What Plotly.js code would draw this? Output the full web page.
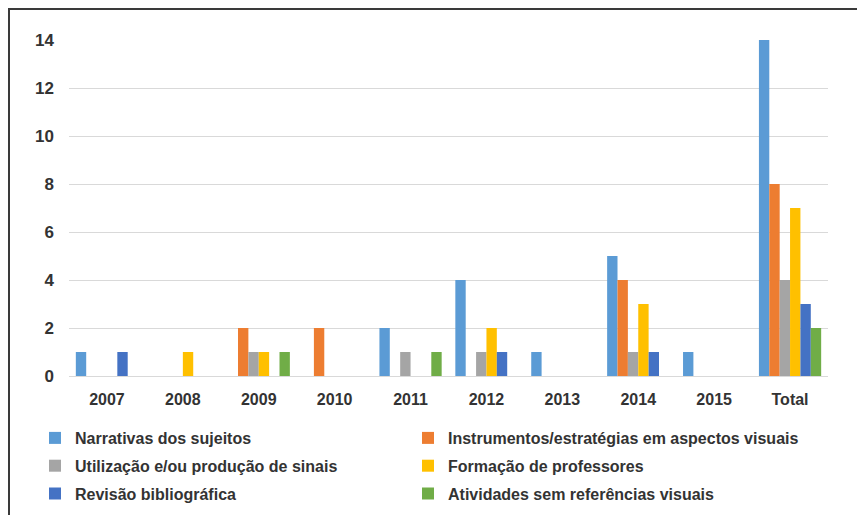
<!DOCTYPE html>
<html>
<head>
<meta charset="utf-8">
<script src="https://cdn.plot.ly/plotly-3.0.1.min.js"></script>
<style>
  html, body { margin: 0; padding: 0; background: #fff; overflow: hidden; }
  #frame { position: absolute; left: 8px; top: 8px; width: 900px; height: 600px;
           border-left: 2px solid #3a3a3a; border-top: 2px solid #3a3a3a; }
  #chart { position: absolute; left: 0; top: 0; width: 857px; height: 515px; }
</style>
</head>
<body>
<div id="frame"></div>
<div id="chart"></div>
<script>
const categories = ["2007", "2008", "2009", "2010", "2011", "2012", "2013", "2014", "2015", "Total"];
const seriesNames = [
  "Narrativas dos sujeitos",
  "Instrumentos/estratégias em aspectos visuais",
  "Utilização e/ou produção de sinais",
  "Formação de professores",
  "Revisão bibliográfica",
  "Atividades sem referências visuais"
];
const narrativas   = [1, 0, 0, 0, 2, 4, 1, 5, 1, 14];
const instrumentos = [0, 0, 2, 2, 0, 0, 0, 4, 0, 8];
const utilizacao   = [0, 0, 1, 0, 1, 1, 0, 1, 0, 4];
const formacao     = [0, 1, 1, 0, 0, 2, 0, 3, 0, 7];
const revisao      = [1, 0, 0, 0, 0, 1, 0, 1, 0, 3];
const atividades   = [0, 0, 1, 0, 1, 0, 0, 0, 0, 2];
const yTicks = [0, 2, 4, 6, 8, 10, 12, 14];

const values = [narrativas, instrumentos, utilizacao, formacao, revisao, atividades];
const colors = ["#5B9BD5", "#ED7D31", "#A5A5A5", "#FFC000", "#4472C4", "#70AD47"];
// left column: 0,2,4 ; right column: 1,3,5
const legendIds = ["legend", "legend2", "legend", "legend2", "legend", "legend2"];

const traces = values.map((v, i) => ({
  type: "bar",
  name: seriesNames[i],
  x: categories,
  y: v,
  marker: { color: colors[i], line: { width: 0 } },
  legend: legendIds[i],
  legendgroup: "g" + i,
  hoverinfo: "x+y+name"
}));

const legFont = { family: "Liberation Sans, Arial, sans-serif", size: 16, color: "#333333", weight: "bold" };
function leg(xpx) {
  return {
    orientation: "v", x: xpx / 857, y: 1 - 466 / 515, xanchor: "left", yanchor: "middle",
    xref: "container", yref: "container",
    itemwidth: 30, font: legFont, bgcolor: "rgba(0,0,0,0)",
    traceorder: "grouped", tracegroupgap: 4
  };
}

const tickFont = { family: "Liberation Sans, Arial, sans-serif", size: 16, color: "#333333", weight: "bold" };

const layout = {
  width: 857, height: 515,
  margin: { l: 69, r: 29, t: 40, b: 139, autoexpand: false },
  paper_bgcolor: "rgba(0,0,0,0)",
  plot_bgcolor: "rgba(0,0,0,0)",
  barmode: "group",
  bargap: 0.18,
  bargroupgap: 0,
  showlegend: true,
  legend: leg(35),
  legend2: leg(408),
  xaxis: {
    type: "category",
    tickfont: tickFont,
    showgrid: false, showline: false, zeroline: false, ticks: "",
    ticklabelstandoff: 12, automargin: false
  },
  yaxis: {
    range: [0, 14], tickvals: yTicks, ticktext: yTicks.map(String),
    tickfont: Object.assign({}, tickFont, { size: 17 }),
    showgrid: true, gridcolor: "#d9d9d9", gridwidth: 1,
    zeroline: true, zerolinecolor: "#d9d9d9", zerolinewidth: 1,
    showline: false, ticks: "", ticklabelstandoff: 14, automargin: false
  }
};

Plotly.newPlot("chart", traces, layout, { displayModeBar: false, staticPlot: true });
</script>
</body>
</html>
